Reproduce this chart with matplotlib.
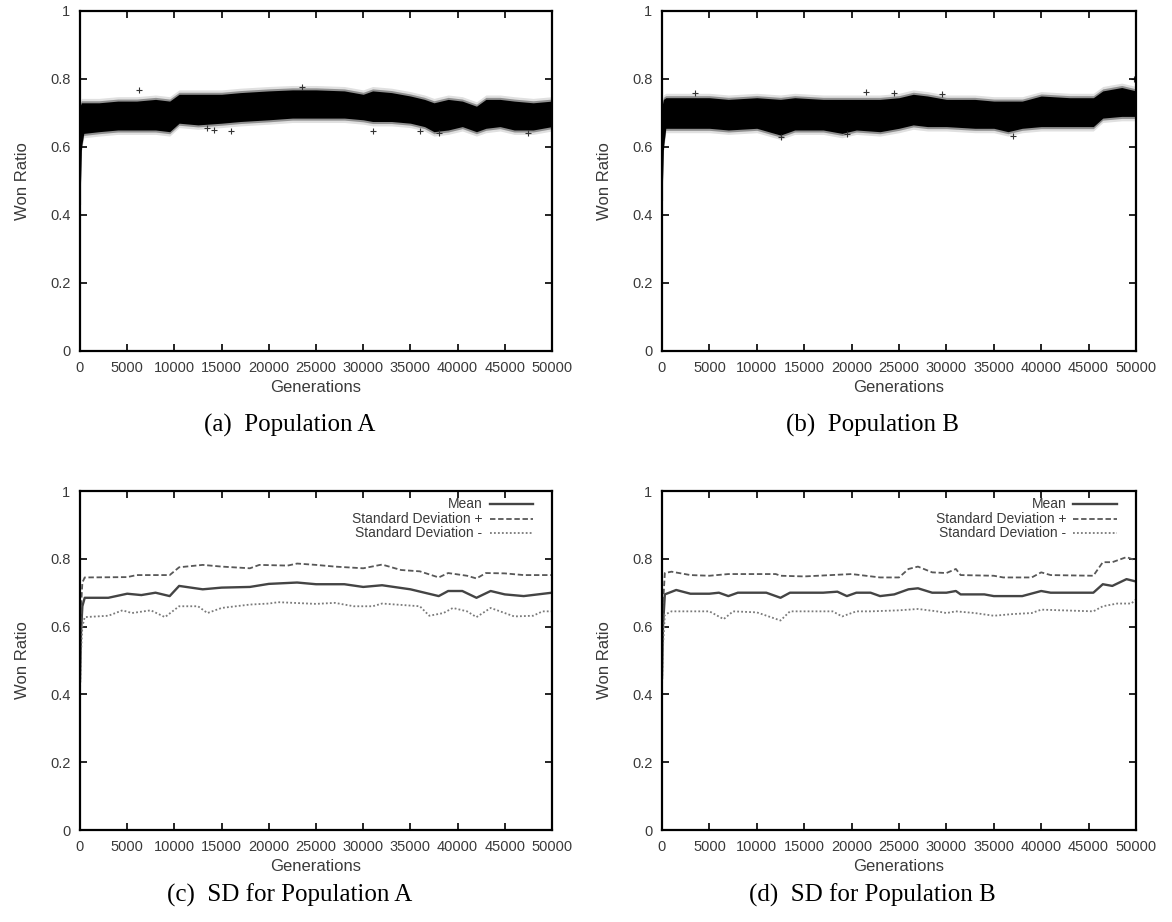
import numpy as np
import matplotlib.pyplot as plt
from matplotlib.lines import Line2D

# ---- data ----
x_ticks = [0, 5000, 10000, 15000, 20000, 25000, 30000, 35000, 40000, 45000, 50000]
y_ticks = [0, 0.2, 0.4, 0.6, 0.8, 1.0]
y_tick_labels = ["0", "0.2", "0.4", "0.6", "0.8", "1"]

# population A scatter cloud: envelope of the dense band
cloud_a_x = [0, 150, 400, 2000, 4000, 6000, 8000, 9500, 10500, 12500, 15000, 17000,
             20000, 22500, 25000, 28000, 30000, 31000, 33000, 35000, 36500, 37500,
             39000, 40500, 42000, 43000, 44500, 46000, 48000, 50000]
cloud_a_hi = [0.72, 0.73, 0.73, 0.73, 0.735, 0.735, 0.74, 0.735, 0.755, 0.755, 0.755, 0.76,
              0.765, 0.768, 0.768, 0.765, 0.755, 0.765, 0.76, 0.75, 0.74, 0.73,
              0.74, 0.735, 0.72, 0.74, 0.74, 0.735, 0.73, 0.735]
cloud_a_lo = [0.44, 0.60, 0.64, 0.645, 0.65, 0.65, 0.65, 0.645, 0.67, 0.665, 0.67, 0.675,
              0.68, 0.685, 0.685, 0.685, 0.68, 0.675, 0.675, 0.67, 0.66, 0.645,
              0.65, 0.66, 0.645, 0.655, 0.66, 0.65, 0.65, 0.66]
stray_a_x = [6200, 13500, 14200, 16000, 23500, 31000, 36000, 38000, 47500]
stray_a_y = [0.768, 0.655, 0.650, 0.648, 0.775, 0.648, 0.648, 0.640, 0.640]

# population B scatter cloud
cloud_b_x = [0, 150, 400, 2000, 5000, 7000, 10000, 12500, 14000, 17000, 19000, 20500,
             23000, 25000, 26500, 28000, 30000, 33000, 35000, 36500, 38000, 40000,
             43000, 45500, 46500, 48500, 50000]
cloud_b_hi = [0.72, 0.74, 0.745, 0.745, 0.745, 0.74, 0.745, 0.74, 0.745, 0.74, 0.74, 0.74,
              0.74, 0.745, 0.755, 0.75, 0.74, 0.74, 0.735, 0.735, 0.735, 0.75,
              0.745, 0.745, 0.765, 0.775, 0.765]
cloud_b_lo = [0.45, 0.60, 0.655, 0.655, 0.655, 0.65, 0.655, 0.635, 0.65, 0.65, 0.64, 0.65,
              0.645, 0.655, 0.665, 0.66, 0.66, 0.655, 0.655, 0.645, 0.655, 0.66,
              0.66, 0.66, 0.685, 0.69, 0.69]
stray_b_x = [3500, 12500, 19500, 21500, 24500, 29500, 37000, 49800]
stray_b_y = [0.758, 0.628, 0.638, 0.763, 0.758, 0.757, 0.632, 0.800]

# SD for population A
mean_a_x = [0, 100, 250, 500, 3000, 5000, 6500, 8000, 9500, 10500, 13000, 15000, 18000,
            20000, 23000, 25000, 28000, 30000, 32000, 35000, 38000, 39000, 40500, 42000,
            43500, 45000, 47000, 50000]
mean_a_y = [0.44, 0.58, 0.66, 0.685, 0.685, 0.697, 0.693, 0.70, 0.69, 0.72, 0.71, 0.715, 0.717,
            0.726, 0.73, 0.725, 0.725, 0.717, 0.722, 0.71, 0.69, 0.705, 0.705, 0.685,
            0.705, 0.695, 0.69, 0.70]
sdp_a_x = [0, 100, 250, 500, 5000, 6000, 9500, 10500, 13000, 15000, 18000, 19000, 22000,
           23000, 25000, 27000, 30000, 32000, 34000, 36000, 38000, 39000, 41000, 42000,
           43000, 45000, 47000, 50000]
sdp_a_y = [0.47, 0.65, 0.73, 0.745, 0.746, 0.752, 0.752, 0.775, 0.782, 0.777, 0.772, 0.782, 0.78,
           0.786, 0.782, 0.777, 0.772, 0.783, 0.767, 0.763, 0.745, 0.758, 0.75, 0.742,
           0.758, 0.757, 0.752, 0.752]
sdm_a_x = [0, 100, 250, 500, 3000, 4500, 5500, 7500, 9000, 10500, 12500, 13500, 15000, 18000,
           20000, 21000, 25000, 27000, 29000, 31000, 32000, 36000, 37000, 38500, 39500,
           41000, 42000, 43500, 45000, 46000, 48000, 49000, 50000]
sdm_a_y = [0.41, 0.52, 0.60, 0.628, 0.632, 0.648, 0.64, 0.648, 0.628, 0.66, 0.66, 0.64, 0.655, 0.665,
           0.668, 0.672, 0.667, 0.67, 0.66, 0.66, 0.668, 0.66, 0.632, 0.64, 0.655,
           0.645, 0.628, 0.655, 0.64, 0.63, 0.632, 0.645, 0.645]

# SD for population B
mean_b_x = [0, 100, 300, 1500, 3000, 5000, 6000, 7000, 8000, 11000, 12500, 13500, 17000, 18500,
            19500, 20500, 22000, 23000, 24500, 26000, 27000, 28500, 30000, 31000, 31500,
            34000, 35000, 38000, 40000, 41000, 45500, 46500, 47500, 49000, 50000]
mean_b_y = [0.45, 0.60, 0.695, 0.708, 0.697, 0.697, 0.70, 0.69, 0.70, 0.70, 0.685, 0.70, 0.70, 0.703,
            0.69, 0.70, 0.70, 0.69, 0.695, 0.71, 0.713, 0.70, 0.70, 0.705, 0.695,
            0.695, 0.69, 0.69, 0.705, 0.70, 0.70, 0.725, 0.72, 0.74, 0.733]
sdp_b_x = [0, 100, 300, 1000, 3000, 5000, 7000, 12000, 12500, 15000, 20000, 23000, 25000,
           26000, 27000, 28500, 30000, 31000, 31500, 35000, 36000, 39000, 40000, 41000,
           45500, 46500, 47500, 49000, 50000]
sdp_b_y = [0.48, 0.66, 0.758, 0.762, 0.752, 0.75, 0.755, 0.755, 0.75, 0.748, 0.755, 0.745, 0.745,
           0.77, 0.777, 0.76, 0.758, 0.77, 0.752, 0.75, 0.745, 0.745, 0.76, 0.752,
           0.75, 0.79, 0.79, 0.805, 0.795]
sdm_b_x = [0, 100, 300, 1000, 5000, 6500, 7500, 10000, 12500, 13500, 18000, 19000, 20500,
           22000, 25000, 27000, 29000, 30000, 31000, 33000, 35000, 37000, 39000, 40000,
           45500, 46500, 48000, 49500, 50000]
sdm_b_y = [0.42, 0.54, 0.635, 0.645, 0.645, 0.622, 0.645, 0.642, 0.618, 0.645, 0.645, 0.63, 0.645,
           0.645, 0.648, 0.652, 0.645, 0.64, 0.645, 0.64, 0.632, 0.637, 0.64, 0.65,
           0.645, 0.66, 0.668, 0.668, 0.68]

legend_labels = ["Mean", "Standard Deviation +", "Standard Deviation -"]
captions = ["(a)  Population A", "(b)  Population B",
            "(c)  SD for Population A", "(d)  SD for Population B"]

SANS = ["Liberation Sans", "DejaVu Sans"]
SERIF = ["Liberation Serif", "DejaVu Serif"]
GREY = "#3a3a3a"


def style_axes(ax):
    ax.set_xlim(0, 50000)
    ax.set_ylim(0, 1)
    ax.set_xticks(x_ticks)
    ax.set_yticks(y_ticks)
    ax.set_yticklabels(y_tick_labels)
    ax.tick_params(direction="in", top=True, right=True, length=5, width=1.2,
                   labelsize=10.5, labelcolor=GREY, pad=7)
    for lab in ax.get_xticklabels() + ax.get_yticklabels():
        lab.set_family(SANS)
    for sp in ax.spines.values():
        sp.set_linewidth(1.6)
    ax.set_xlabel("Generations", family=SANS, fontsize=12, color=GREY, labelpad=4)
    ax.set_ylabel("Won Ratio", family=SANS, fontsize=12, color=GREY, labelpad=14)


def draw_cloud(ax, x, lo, hi, sx, sy):
    x = np.asarray(x)
    lo = np.asarray(lo)
    hi = np.asarray(hi)
    ax.fill_between(x, lo - 0.013, hi + 0.013, color="black", alpha=0.12, lw=0)
    ax.fill_between(x, lo - 0.006, hi + 0.006, color="black", alpha=0.35, lw=0)
    ax.fill_between(x, lo, hi, color="black", lw=0)
    ax.vlines(x[:2], lo[:2] - 0.01, lo[1] + 0.02, color="black", lw=1.5)
    ax.scatter(sx, sy, marker="+", s=14, color="#333333", lw=0.8)


def draw_sd(ax, mx, my, px, py, nx, ny):
    styles = [("#444444", 1.7, "-"), ("#585858", 1.3, (0, (3, 1.5))),
              ("#7a7a7a", 1.3, (0, (1, 1.2)))]
    for (xs, ys), (c, lw, ls) in zip([(mx, my), (px, py), (nx, ny)], styles):
        ax.plot(xs, ys, color=c, lw=lw, ls=ls)
    rows = [0.962, 0.917, 0.876]
    for lab, (c, lw, ls), yy in zip(legend_labels, styles, rows):
        ax.text(0.853, yy, lab, transform=ax.transAxes, ha="right", va="center",
                family=SANS, fontsize=10, color=GREY)
        ax.add_line(Line2D([0.868, 0.96], [yy, yy], transform=ax.transAxes,
                           color=c, lw=lw, ls=ls))


fig = plt.figure(figsize=(11.72, 9.22), dpi=100)
W, H = 1172.0, 922.0
pos = [(80, 11, 472, 340), (662, 11, 474, 340), (80, 491, 472, 339), (662, 491, 474, 339)]
axes = [fig.add_axes([l / W, 1 - (t + h) / H, w / W, h / H]) for l, t, w, h in pos]

draw_cloud(axes[0], cloud_a_x, cloud_a_lo, cloud_a_hi, stray_a_x, stray_a_y)
draw_cloud(axes[1], cloud_b_x, cloud_b_lo, cloud_b_hi, stray_b_x, stray_b_y)
draw_sd(axes[2], mean_a_x, mean_a_y, sdp_a_x, sdp_a_y, sdm_a_x, sdm_a_y)
draw_sd(axes[3], mean_b_x, mean_b_y, sdp_b_x, sdp_b_y, sdm_b_x, sdm_b_y)
for ax in axes:
    style_axes(ax)

cap_pos = [(290, 425), (872, 425), (290, 895), (872, 895)]
for (cx, cy), txt in zip(cap_pos, captions):
    fig.text(cx / W, 1 - cy / H, txt, ha="center", va="center",
             family=SERIF, fontsize=18, color="black")

fig.savefig("out.png", dpi=100)
